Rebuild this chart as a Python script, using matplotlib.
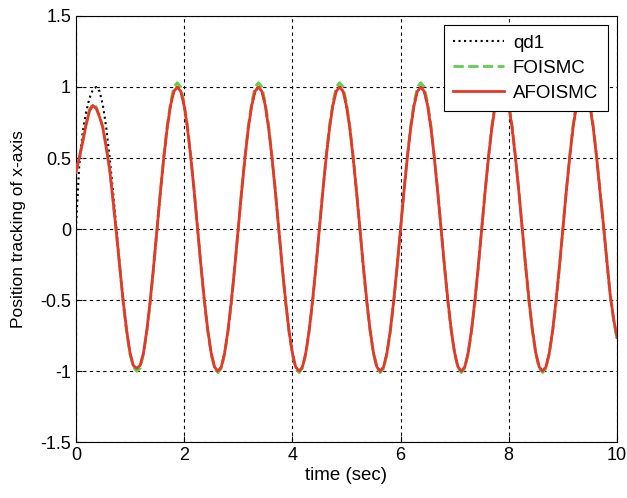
import numpy as np
import matplotlib
matplotlib.use('Agg')
import matplotlib.pyplot as plt

plt.rcParams['font.family'] = ['Liberation Sans', 'DejaVu Sans']

# sample times (sec), 1/16 s apart
time = np.arange(0, 10.001, 0.0625)

# desired trajectory qd1 (one line = one 1.5 s period)
qd1 = [0.0, 0.45, 0.68, 0.82, 0.92, 0.98, 1.0, 0.97, 0.87, 0.71, 0.5, 0.26,
       0.0, -0.26, -0.5, -0.71, -0.87, -0.97, -1.0, -0.97, -0.87, -0.71, -0.5, -0.26,
       0.0, 0.26, 0.5, 0.71, 0.87, 0.97, 1.0, 0.97, 0.87, 0.71, 0.5, 0.26,
       0.0, -0.26, -0.5, -0.71, -0.87, -0.97, -1.0, -0.97, -0.87, -0.71, -0.5, -0.26,
       0.0, 0.26, 0.5, 0.71, 0.87, 0.97, 1.0, 0.97, 0.87, 0.71, 0.5, 0.26,
       0.0, -0.26, -0.5, -0.71, -0.87, -0.97, -1.0, -0.97, -0.87, -0.71, -0.5, -0.26,
       0.0, 0.26, 0.5, 0.71, 0.87, 0.97, 1.0, 0.97, 0.87, 0.71, 0.5, 0.26,
       0.0, -0.26, -0.5, -0.71, -0.87, -0.97, -1.0, -0.97, -0.87, -0.71, -0.5, -0.26,
       0.0, 0.26, 0.5, 0.71, 0.87, 0.97, 1.0, 0.97, 0.87, 0.71, 0.5, 0.26,
       0.0, -0.26, -0.5, -0.71, -0.87, -0.97, -1.0, -0.97, -0.87, -0.71, -0.5, -0.26,
       0.0, 0.26, 0.5, 0.71, 0.87, 0.97, 1.0, 0.97, 0.87, 0.71, 0.5, 0.26,
       0.0, -0.26, -0.5, -0.71, -0.87, -0.97, -1.0, -0.97, -0.87, -0.71, -0.5, -0.26,
       0.0, 0.26, 0.5, 0.71, 0.87, 0.97, 1.0, 0.97, 0.87, 0.71, 0.5, 0.26,
       0.02, -0.23, -0.47, -0.64, -0.77]

# FOISMC response
foismc = [0.40, 0.50, 0.62, 0.74, 0.84, 0.88, 0.86, 0.80, 0.72, 0.58, 0.42, 0.20,
          -0.03, -0.27, -0.52, -0.72, -0.88, -0.97, -1.0, -0.98, -0.88, -0.72, -0.52, -0.27,
          0.0, 0.27, 0.51, 0.73, 0.89, 1.0, 1.03, 1.0, 0.89, 0.73, 0.51, 0.27,
          0.0, -0.27, -0.52, -0.72, -0.88, -0.98, -1.01, -0.98, -0.88, -0.72, -0.52, -0.27,
          0.0, 0.27, 0.51, 0.73, 0.89, 1.0, 1.03, 1.0, 0.89, 0.73, 0.51, 0.27,
          0.0, -0.27, -0.52, -0.72, -0.88, -0.98, -1.01, -0.98, -0.88, -0.72, -0.52, -0.27,
          0.0, 0.27, 0.51, 0.73, 0.89, 1.0, 1.03, 1.0, 0.89, 0.73, 0.51, 0.27,
          0.0, -0.27, -0.52, -0.72, -0.88, -0.98, -1.01, -0.98, -0.88, -0.72, -0.52, -0.27,
          0.0, 0.27, 0.51, 0.73, 0.89, 1.0, 1.03, 1.0, 0.89, 0.73, 0.51, 0.27,
          0.0, -0.27, -0.52, -0.72, -0.88, -0.98, -1.01, -0.98, -0.88, -0.72, -0.52, -0.27,
          0.0, 0.27, 0.51, 0.73, 0.89, 1.0, 1.03, 1.0, 0.89, 0.73, 0.51, 0.27,
          0.0, -0.27, -0.52, -0.72, -0.88, -0.98, -1.01, -0.98, -0.88, -0.72, -0.52, -0.27,
          0.0, 0.27, 0.51, 0.73, 0.89, 1.0, 1.03, 1.0, 0.89, 0.73, 0.51, 0.27,
          0.03, -0.22, -0.47, -0.64, -0.77]

# AFOISMC response
afoismc = [0.40, 0.50, 0.61, 0.73, 0.83, 0.87, 0.85, 0.79, 0.71, 0.57, 0.42, 0.20,
           -0.03, -0.27, -0.51, -0.71, -0.87, -0.96, -0.98, -0.96, -0.87, -0.71, -0.5, -0.26,
           0.0, 0.26, 0.5, 0.71, 0.87, 0.97, 1.0, 0.97, 0.87, 0.71, 0.5, 0.26,
           0.0, -0.26, -0.5, -0.71, -0.87, -0.97, -1.0, -0.97, -0.87, -0.71, -0.5, -0.26,
           0.0, 0.26, 0.5, 0.71, 0.87, 0.97, 1.0, 0.97, 0.87, 0.71, 0.5, 0.26,
           0.0, -0.26, -0.5, -0.71, -0.87, -0.97, -1.0, -0.97, -0.87, -0.71, -0.5, -0.26,
           0.0, 0.26, 0.5, 0.71, 0.87, 0.97, 1.0, 0.97, 0.87, 0.71, 0.5, 0.26,
           0.0, -0.26, -0.5, -0.71, -0.87, -0.97, -1.0, -0.97, -0.87, -0.71, -0.5, -0.26,
           0.0, 0.26, 0.5, 0.71, 0.87, 0.97, 1.0, 0.97, 0.87, 0.71, 0.5, 0.26,
           0.0, -0.26, -0.5, -0.71, -0.87, -0.97, -1.0, -0.97, -0.87, -0.71, -0.5, -0.26,
           0.0, 0.26, 0.5, 0.71, 0.87, 0.97, 1.0, 0.97, 0.87, 0.71, 0.5, 0.26,
           0.0, -0.26, -0.5, -0.71, -0.87, -0.97, -1.0, -0.97, -0.87, -0.71, -0.5, -0.26,
           0.0, 0.26, 0.5, 0.71, 0.87, 0.97, 1.0, 0.97, 0.87, 0.71, 0.5, 0.26,
           0.03, -0.22, -0.46, -0.63, -0.76]

fig = plt.figure(figsize=(6.27, 4.98), dpi=100)
ax = fig.add_axes([0.121, 0.112, 0.863, 0.856])

ax.plot(time, qd1, linestyle=':', color='black', linewidth=1.5, label='qd1', zorder=2)
ax.plot(time, foismc, linestyle='--', color='#5fcf4c', linewidth=2, label='FOISMC', zorder=3)
ax.plot(time, afoismc, linestyle='-', color='#e8372a', linewidth=2, label='AFOISMC', zorder=4)

ax.set_xlim(0, 10)
ax.set_ylim(-1.5, 1.5)
ax.set_xticks([0, 2, 4, 6, 8, 10])
ax.set_yticks([-1.5, -1, -0.5, 0, 0.5, 1, 1.5])
ax.set_yticklabels(['-1.5', '-1', '-0.5', '0', '0.5', '1', '1.5'])
ax.grid(True, color='black', linestyle=(0, (3, 3)), linewidth=0.8)
ax.tick_params(direction='in', labelsize=13, length=4, colors='black')
for s in ax.spines.values():
    s.set_color('black')
    s.set_linewidth(0.8)

ax.set_xlabel('time (sec)', fontsize=13.5, labelpad=2)
ax.set_ylabel('Position tracking of x-axis', fontsize=12.5, labelpad=10)

leg = ax.legend(loc='upper right', fontsize=13.5, handlelength=2.7, handletextpad=0.5,
                fancybox=False, framealpha=1, edgecolor='black', borderaxespad=0.5,
                labelspacing=0.42, borderpad=0.5)
leg.get_frame().set_linewidth(0.8)

fig.savefig('out.png', dpi=100)
